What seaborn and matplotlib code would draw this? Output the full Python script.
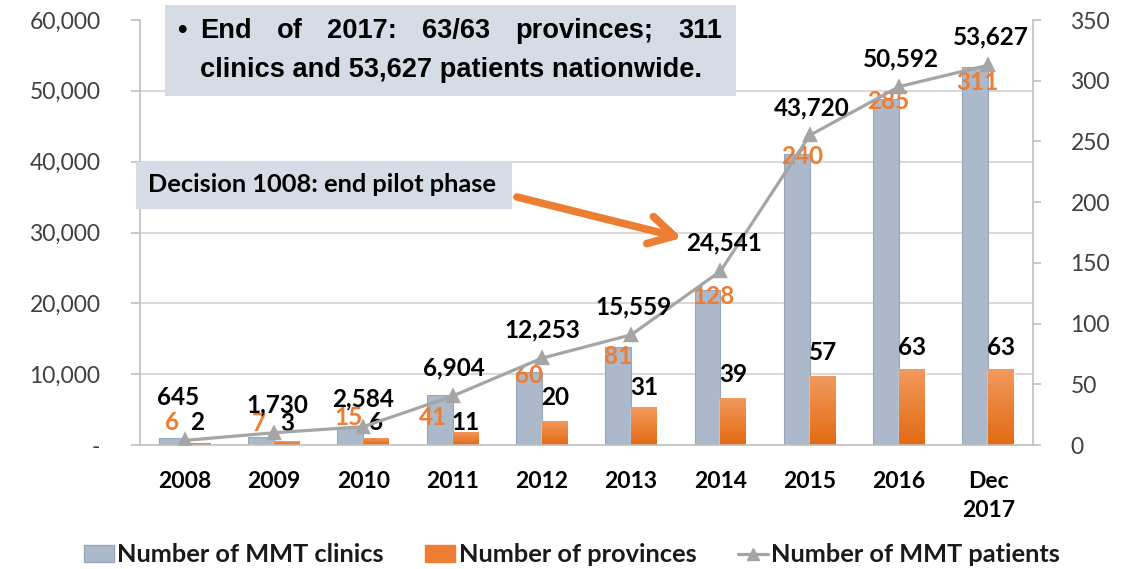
import numpy as np
import pandas as pd
import matplotlib.pyplot as plt
import seaborn as sns
from matplotlib.patches import Patch, Rectangle
from matplotlib.lines import Line2D
from matplotlib.ticker import FuncFormatter, MultipleLocator
from matplotlib.colors import LinearSegmentedColormap

# 1. global style
sns.set_theme(style="white")
plt.rcParams["font.family"] = ["Lato", "DejaVu Sans"]

# 2. data
years = ["2008", "2009", "2010", "2011", "2012", "2013", "2014", "2015", "2016", "Dec\n2017"]
clinics = [6, 7, 15, 41, 60, 81, 128, 240, 285, 311]
provinces = [2, 3, 6, 11, 20, 31, 39, 57, 63, 63]
patients = [645, 1730, 2584, 6904, 12253, 15559, 24541, 43720, 50592, 53627]

# label nudges in pixels (dx, dy), tuned by eye against the original
patient_nudge = [(-7, 43), (3, 28), (0, 28), (1, 28), (0, 28), (2, 28), (4, 28), (2, 27), (2, 28), (2, 28)]
clinic_nudge = [(0, 15), (-2, 13), (-2, 9), (-7, -22), (0, -3), (0, -10), (6, -7), (5, -3), (2, -3), (2, -15)]
province_nudge = [(0, 20), (0, 18), (0, 15), (0, 9), (0, 23), (0, 20), (0, 23), (0, 23), (0, 21), (0, 21)]

GRAY = "#ACB9CA"
GRAY_EDGE = "#97A6BB"
ORANGE = "#ED7D31"
LINE = "#A5A5A5"
BOX = "#D6DCE5"
AXIS = "#BFBFBF"
TICK_TXT = "#404040"

W, H = 1121, 569
def fx(px):
    return px / W
def fy(py):
    return 1 - py / H

# 3. canvas
fig = plt.figure(figsize=(W / 100, H / 100), dpi=100)
ax = fig.add_axes([fx(140), fy(445), fx(1033) - fx(140), (445 - 20) / H])
ax2 = ax.twinx()

# --- bars: clinics & provinces on the right-hand scale ---
df = pd.DataFrame({
    "year": years * 2,
    "value": clinics + provinces,
    "series": ["Number of MMT clinics"] * len(years) + ["Number of provinces"] * len(years),
})
sns.barplot(data=df, x="year", y="value", hue="series", palette=[GRAY, ORANGE],
            width=0.58, gap=0, saturation=1, legend=False, ax=ax)
for p in ax.containers[0]:
    p.set_edgecolor(GRAY_EDGE)
    p.set_linewidth(0.8)

# orange gradient, clipped to each bar
grad_cmap = LinearSegmentedColormap.from_list("org", ["#E36A12", "#F29A5E"])
grad = np.linspace(0, 1, 128).reshape(-1, 1)
for p in ax.containers[1]:
    im = ax.imshow(grad, cmap=grad_cmap, origin="lower", aspect="auto",
                   extent=[p.get_x(), p.get_x() + p.get_width(), 0, p.get_height()],
                   zorder=p.get_zorder() + 0.1, interpolation="bilinear")
    im.set_clip_path(p)

# --- line: patients on the left-hand scale ---
sns.pointplot(x=years, y=patients, color=LINE, markers="^", linestyles="-",
              markersize=8, linewidth=2.3, errorbar=None, ax=ax2)

# axes limits / ticks
ax.set_xlim(-0.5, len(years) - 0.5)
ax.set_ylim(0, 350)
ax2.set_ylim(0, 60000)
ax.yaxis.tick_right()
ax2.yaxis.tick_left()
ax.yaxis.set_major_locator(MultipleLocator(50))
ax2.yaxis.set_major_locator(MultipleLocator(10000))
ax2.yaxis.set_major_formatter(FuncFormatter(lambda v, _: "-" if v == 0 else f"{v:,.0f}"))

# gridlines sit behind the bars, so draw them on the bar axes
ax.set_yticks(np.linspace(0, 350, 7), minor=True)
ax.grid(True, which="minor", axis="y", color="#D9D9D9", lw=1.5)
ax.grid(False, which="major")
ax2.grid(False)
ax.set_axisbelow(True)

ax.set_xticks(range(len(years)), labels=years)
ax.set_xticks(np.arange(-0.5, len(years), 1), minor=True)
ax.tick_params(axis="x", which="major", length=0, pad=19, labelsize=16.5, labelcolor="black")
ax.tick_params(axis="x", which="minor", length=7, width=1.2, color=AXIS, direction="out")
ax.tick_params(axis="y", which="minor", length=0)
ax.tick_params(axis="y", which="major", length=6, width=1.2, color=AXIS, direction="out",
               pad=21, labelsize=16.5, labelcolor=TICK_TXT, right=True, left=False)
ax2.tick_params(axis="y", which="major", length=6.5, width=1.2, color=AXIS, direction="out",
                pad=22, labelsize=16.5, labelcolor=TICK_TXT, left=True, right=False)
for lbl in ax.get_xticklabels():
    lbl.set_fontweight("bold")
    lbl.set_linespacing(1.45)
ax.set_xlabel("")
ax.set_ylabel("")
ax2.set_ylabel("")

for s in ["left", "right", "bottom"]:
    ax.spines[s].set_color(AXIS)
    ax.spines[s].set_linewidth(1.2)
ax.spines["top"].set_visible(False)
for s in ax2.spines.values():
    s.set_visible(False)

# --- data labels ---
for (x, y), v, (dx, dy) in zip(ax2.lines[0].get_xydata(), patients, patient_nudge):
    ax2.annotate(f"{v:,}", xy=(x, y), xytext=(dx, dy), textcoords="offset pixels",
                 ha="center", va="center", fontsize=17.5, fontweight="bold", color="black")
for p, v, (dx, dy) in zip(ax.containers[0], clinics, clinic_nudge):
    ax.annotate(f"{v}", xy=(p.get_x() + p.get_width() / 2, p.get_height()), xytext=(dx, dy),
                textcoords="offset pixels", ha="center", va="center",
                fontsize=17.5, fontweight="bold", color=ORANGE, zorder=6)
for p, v, (dx, dy) in zip(ax.containers[1], provinces, province_nudge):
    ax.annotate(f"{v}", xy=(p.get_x() + p.get_width() / 2, p.get_height()), xytext=(dx, dy),
                textcoords="offset pixels", ha="center", va="center",
                fontsize=17.5, fontweight="bold", color="black", zorder=6)

# --- call-out boxes ---
fig.add_artist(Rectangle((fx(165), fy(96)), fx(736) - fx(165), (96 - 5) / H,
                         transform=fig.transFigure, facecolor=BOX, edgecolor="none", zorder=5))
box_font = dict(family=["Liberation Sans", "DejaVu Sans"], fontsize=19.6, fontweight="bold",
                color="black", va="center", zorder=6)
fig.text(fx(177), fy(31), "•", ha="left", **box_font)
words = ["End", "of", "2017:", "63/63", "provinces;", "311"]
word_txt = [fig.text(fx(200), fy(31), w, ha="left", **box_font) for w in words]
renderer = fig.canvas.get_renderer()
widths = [t.get_window_extent(renderer).width for t in word_txt]
gap = (722 - 200 - sum(widths)) / (len(words) - 1)
xpos = 200
for t, w in zip(word_txt, widths):
    t.set_x(fx(xpos))
    xpos += w + gap
fig.text(fx(200), fy(70), "clinics and 53,627 patients nationwide.", ha="left", **box_font)

fig.add_artist(Rectangle((fx(136), fy(209)), fx(512) - fx(136), (209 - 162) / H,
                         transform=fig.transFigure, facecolor=BOX, edgecolor="none", zorder=5))
fig.text(fx(148), fy(185), "Decision 1008: end pilot phase", ha="left", va="center",
         fontsize=18.3, fontweight="bold", color="black", zorder=6)

# orange arrow towards 2014
ax2.annotate("", xy=(fx(682), fy(238)), xycoords="figure fraction",
             xytext=(fx(517), fy(197)), textcoords="figure fraction",
             arrowprops=dict(arrowstyle="->,head_length=0.9,head_width=0.5", lw=5.5,
                             color=ORANGE, shrinkA=0, shrinkB=0, mutation_scale=20))

# --- legend ---
handles = [
    Patch(facecolor=GRAY, edgecolor=GRAY_EDGE),
    Patch(facecolor=ORANGE, edgecolor=ORANGE),
    Line2D([], [], color=LINE, lw=2.3, marker="^", markersize=8),
]
labels = ["Number of MMT clinics", "Number of provinces", "Number of MMT patients"]
fig.legend(handles, labels, loc="center", bbox_to_anchor=(fx(572), fy(555)), ncol=3,
           frameon=False, prop=dict(family="Lato", weight="bold", size=18.3),
           handlelength=1.18, handleheight=0.6, handletextpad=0.12, columnspacing=1.65,
           borderpad=0, labelcolor="#1a1a1a")

plt.savefig("out.png", dpi=100)
